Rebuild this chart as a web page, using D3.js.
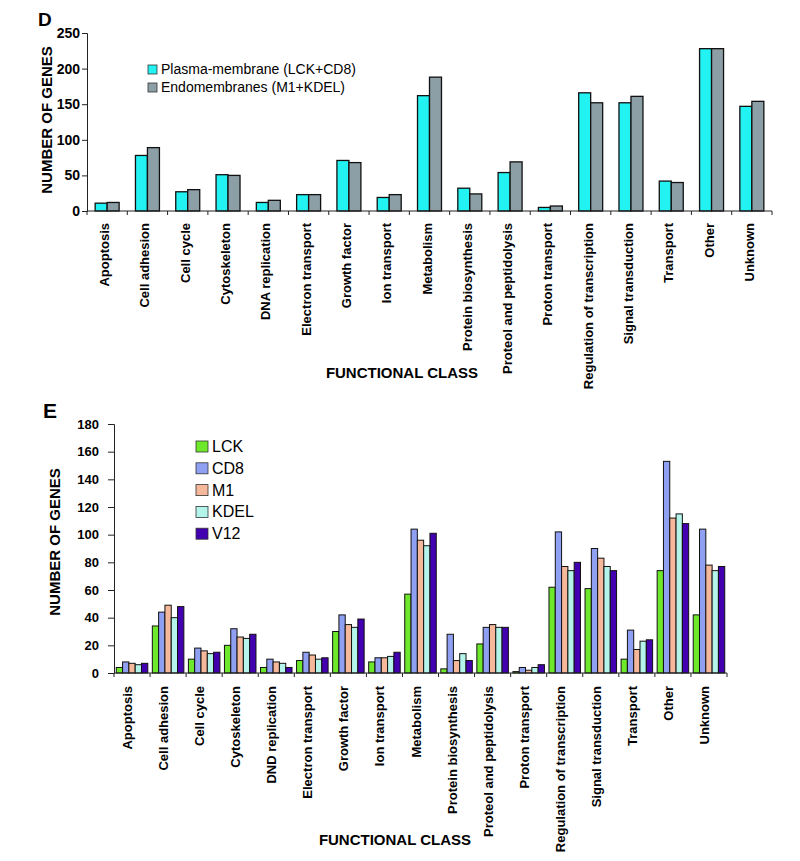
<!DOCTYPE html>
<html>
<head>
<meta charset="utf-8">
<script src="https://cdn.jsdelivr.net/npm/d3@7"></script>
<style>
  body { margin: 0; background: #fff; }
  svg { font-family: "Liberation Sans", Arial, sans-serif; }
</style>
</head>
<body>
<svg id="chart" width="800" height="861"></svg>
<script>
// panel D data
const classesD = ["Apoptosis","Cell adhesion","Cell cycle","Cytoskeleton","DNA replication","Electron transport","Growth factor","Ion transport","Metabolism","Protein biosynthesis","Proteol and peptidolysis","Proton transport","Regulation of transcription","Signal transduction","Transport","Other","Unknown"];
const seriesD = ["Plasma-membrane (LCK+CD8)", "Endomembranes (M1+KDEL)"];
const plasmaD = [11,78,27,51,12,23,71,19,162,32,54,5,166,152,42,228,147];
const endoD   = [12,89,30,50,15,23,68,23,188,24,69,7,152,161,40,228,154];
const ticksD = [0,50,100,150,200,250];

// panel E data
const classesE = ["Apoptosis","Cell adhesion","Cell cycle","Cytoskeleton","DND replication","Electron transport","Growth factor","Ion transport","Metabolism","Protein biosynthesis","Proteol and peptidolysis","Proton transport","Regulation of transcription","Signal transduction","Transport","Other","Unknown"];
const seriesE = ["LCK","CD8","M1","KDEL","V12"];
const lckE  = [4,34,10,20,4,9,30,8,57,3,21,1,62,61,10,74,42];
const cd8E  = [8,44,18,32,10,15,42,11,104,28,33,4,102,90,31,153,104];
const m1E   = [7,49,16,26,8,13,35,11,96,9,35,2,77,83,17,112,78];
const kdelE = [6,40,14,25,7,10,33,12,92,14,33,4,74,77,23,115,74];
const v12E  = [7,48,15,28,4,11,39,15,101,9,33,6,80,74,24,108,77];
const ticksE = [0,20,40,60,80,100,120,140,160,180];

const svg = d3.select("#chart");

function panel(opts) {
  const g = svg.append("g");
  const x = d3.scaleBand().domain(opts.classes).range([opts.x0, opts.x1]);
  const y = d3.scaleLinear().domain([0, opts.ymax]).range([opts.yb, opts.yt]);
  const xs = d3.scaleBand().domain(opts.series).range([0, x.bandwidth()]).paddingOuter(opts.po);

  // bars
  opts.classes.forEach((c, i) => {
    opts.series.forEach((s, j) => {
      const v = opts.values[j][i];
      g.append("rect")
        .attr("x", x(c) + xs(s))
        .attr("y", y(v))
        .attr("width", xs.bandwidth())
        .attr("height", y(0) - y(v))
        .attr("fill", opts.colors[j])
        .attr("stroke", "#111")
        .attr("stroke-width", opts.sw);
    });
  });

  // y axis
  const yAxis = g.append("g")
    .attr("transform", `translate(${opts.x0},0)`)
    .call(d3.axisLeft(y).tickValues(opts.ticks).tickSizeOuter(0).tickSize(opts.tickLen).tickPadding(opts.tickPad));
  yAxis.selectAll("text").attr("font-size", opts.tickFont).attr("font-weight", "bold").attr("fill", "#000")
    .attr("font-family", "Liberation Sans, Arial, sans-serif");
  yAxis.selectAll("line, path").attr("stroke", "#222");

  // x axis line and tick marks at category boundaries
  g.append("line").attr("x1", opts.x0).attr("x2", opts.x1).attr("y1", opts.yb).attr("y2", opts.yb)
    .attr("stroke", "#222");
  const bounds = opts.classes.map(c => x(c)).concat([opts.x1]);
  g.selectAll(null).data(bounds).enter().append("line")
    .attr("x1", d => d).attr("x2", d => d)
    .attr("y1", opts.yb).attr("y2", opts.yb + 4)
    .attr("stroke", "#222");

  // rotated category labels
  g.selectAll(null).data(opts.classes).enter().append("text")
    .attr("transform", d => `translate(${x(d) + x.bandwidth() / 2 + opts.lblDx},${opts.yb + opts.lblDy}) rotate(-90)`)
    .attr("text-anchor", "end")
    .attr("font-size", 13)
    .attr("font-weight", "bold")
    .text(d => d);

  // axis titles
  g.append("text")
    .attr("transform", `translate(${opts.ytx},${opts.yty}) rotate(-90)`)
    .attr("text-anchor", "middle")
    .attr("font-size", 15).attr("font-weight", "bold")
    .text("NUMBER OF GENES");
  g.append("text")
    .attr("x", opts.xtx).attr("y", opts.xty)
    .attr("text-anchor", "middle")
    .attr("font-size", 15).attr("font-weight", "bold")
    .text("FUNCTIONAL CLASS");

  // panel letter
  g.append("text")
    .attr("x", opts.lx).attr("y", opts.ly)
    .attr("font-size", opts.lsize).attr("font-weight", "bold")
    .text(opts.letter);

  // legend
  const leg = g.append("g");
  opts.series.forEach((s, j) => {
    leg.append("rect")
      .attr("x", opts.legX).attr("y", opts.legY + j * opts.legStep)
      .attr("width", opts.legW).attr("height", opts.legH)
      .attr("fill", opts.colors[j]).attr("stroke", "#333").attr("stroke-width", 0.8);
    leg.append("text")
      .attr("x", opts.legX + opts.legW + 4)
      .attr("y", opts.legY + j * opts.legStep + opts.legH)
      .attr("font-size", opts.legFont)
      .text(s);
  });
}

panel({
  classes: classesD, series: seriesD, values: [plasmaD, endoD],
  colors: ["#22f2f2", "#8c9ea6"],
  x0: 87, x1: 772, yb: 211, yt: 33, ymax: 250, ticks: ticksD, po: 0.68, sw: 1.3,
  tickLen: 5, tickPad: 2, tickFont: 14, lblDx: 2, lblDy: 12,
  ytx: 52, yty: 120, xtx: 402, xty: 378,
  letter: "D", lx: 38, ly: 26, lsize: 19,
  legX: 148, legY: 65, legStep: 18, legW: 9, legH: 9, legFont: 14
});

panel({
  classes: classesE, series: seriesE, values: [lckE, cd8E, m1E, kdelE, v12E],
  colors: ["#6ee82a", "#8f9ff2", "#f6b89b", "#b4f4ea", "#4300b0"],
  x0: 114, x1: 727, yb: 673, yt: 424, ymax: 180, ticks: ticksE, po: 0.36, sw: 1,
  tickLen: 6, tickPad: 9, tickFont: 13, lblDx: 0, lblDy: 13,
  ytx: 60, yty: 542, xtx: 395, xty: 845,
  letter: "E", lx: 43, ly: 418, lsize: 21,
  legX: 196, legY: 441, legStep: 21.8, legW: 12, legH: 11, legFont: 16
});
</script>
</body>
</html>
